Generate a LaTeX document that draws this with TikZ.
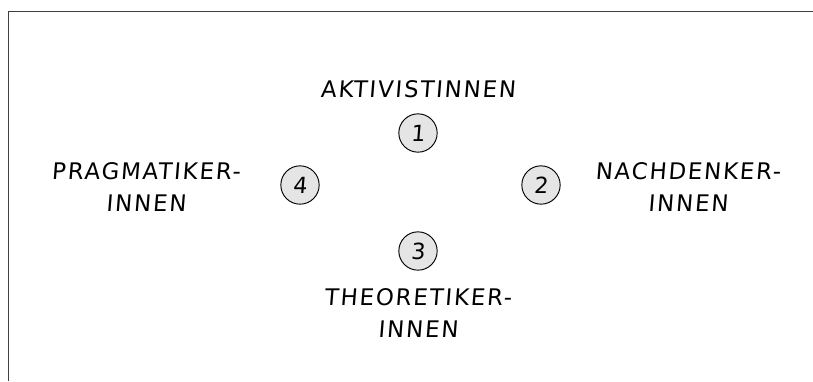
\documentclass[tikz,border=0pt]{standalone}
\usepackage{fontspec}
\usepackage{xcolor}
\usepackage{tikz}
\newfontfamily\handfont[LetterSpace=8,FakeSlant=0.08]{DejaVu Sans}
\tikzstyle{typ}=[font=\handfont\fontsize{19.5}{27}\selectfont, align=center, inner sep=0pt]
\tikzstyle{nummer}=[draw, circle, thick, fill=gray!20, minimum size=1.15cm, inner sep=0pt, font=\handfont\fontsize{19}{20}\selectfont]

\begin{document}
\begin{tikzpicture}[x=0.03cm, y=-0.03cm]
        \useasboundingbox (0,0) rectangle (813,381);
        \draw[line width=0.8pt, black!75] (8,381) -- (8,11) -- (813,11);
        \node[nummer] (n1) at (418,133) {1};
        \node[nummer] (n2) at (541,185) {2};
        \node[nummer] (n3) at (418,251) {3};
        \node[nummer] (n4) at (300,185) {4};
        \node[typ] (aktiv) at (418,89) {AKTIVISTINNEN};
        \node[typ] (nach) at (688,187) {NACHDENKER-\\INNEN};
        \node[typ] (theo) at (418,313) {THEORETIKER-\\INNEN};
        \node[typ] (prag) at (146,187) {PRAGMATIKER-\\INNEN};
    \end{tikzpicture}
\end{document}
